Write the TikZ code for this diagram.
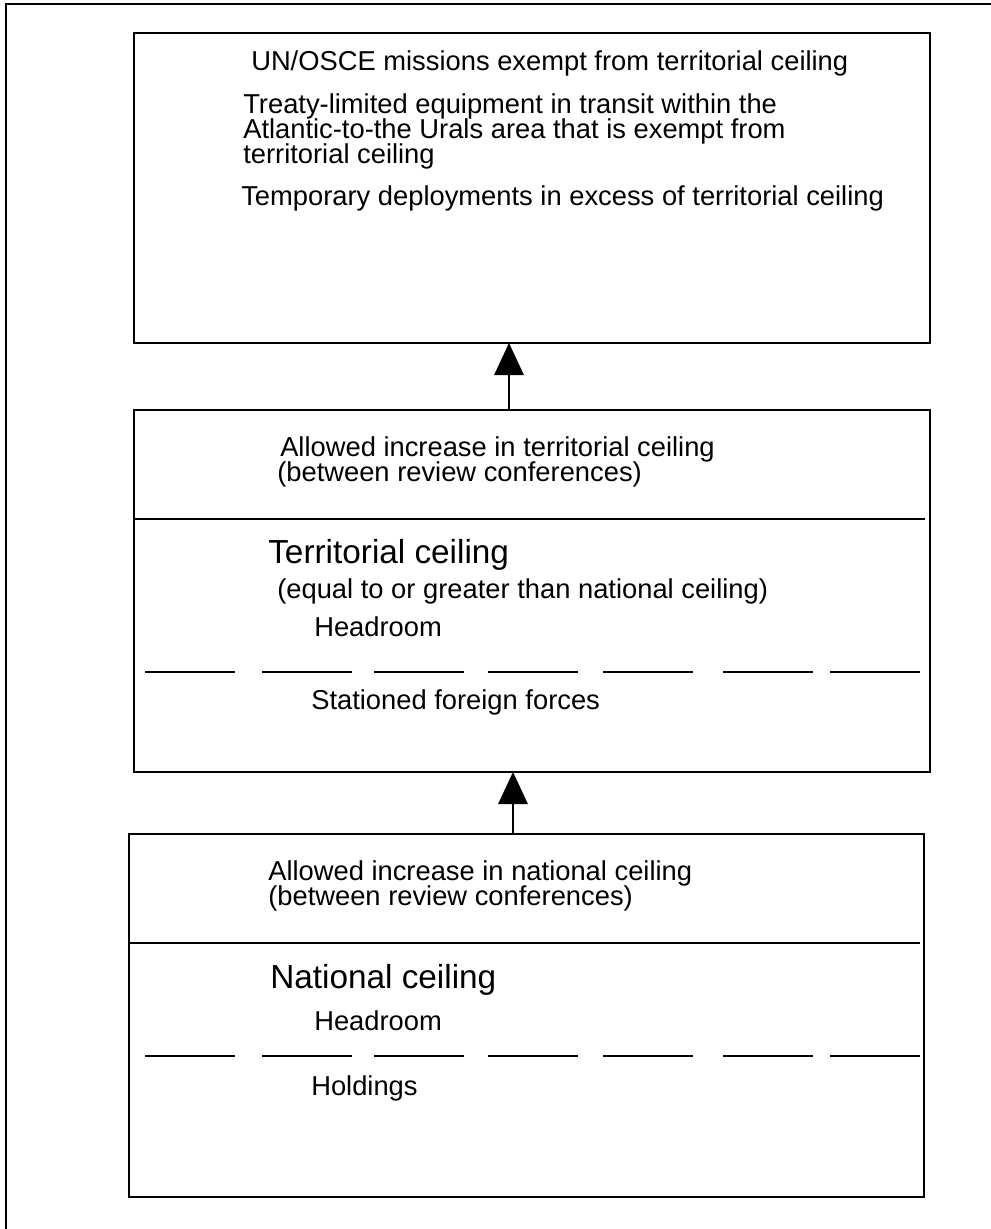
\documentclass[tikz,border=0pt]{standalone}
\usepackage{fontspec}
\setmainfont{Liberation Sans}
\usetikzlibrary{arrows.meta}
\begin{document}
\begin{tikzpicture}[x=0.75pt,y=-0.75pt,
  frameline/.style={line width=2.2pt},
  boxline/.style={line width=2.2pt},
  dashseg/.style={line width=2.2pt},
  txt/.style={anchor=base west, inner sep=0pt, font=\fontsize{20.5}{18.75}\selectfont},
  big/.style={anchor=base west, inner sep=0pt, font=\fontsize{25}{28}\selectfont},
  arr/.style={line width=1.6pt, -{Triangle[width=22pt,length=24pt]}}
]
\useasboundingbox (0,0) rectangle (991,1229);
% outer frame
\draw[frameline] (6,1235) -- (6,4) -- (995,4);
% boxes
\draw[boxline] (134,33) rectangle (930,343);
\draw[boxline] (134,410) rectangle (930,772);
\draw[boxline] (129,834) rectangle (924,1197);
% dividers
\draw[boxline] (134,519) -- (925,519);
\draw[boxline] (129,943) -- (920,943);
% dashed separators
\foreach \a/\b in {145/235,262/352,374/464,488/578,603/693,723/813,830/920}{
  \draw[dashseg] (\a,672) -- (\b,672);
  \draw[dashseg] (\a,1056) -- (\b,1056);
}
% arrows
\coordinate (t1) at (509,343);
\coordinate (s1) at (509,410);
\coordinate (t2) at (513,772);
\coordinate (s2) at (513,834);
\draw[arr] (s1) -- (t1);
\draw[arr] (s2) -- (t2);
% top box text
\node[txt] (u1) at (251,70) {UN/OSCE missions exempt from territorial ceiling};
\node[txt] (tr1) at (243,113) {Treaty-limited equipment in transit within the};
\node[txt] (tr2) at (243,138) {Atlantic-to-the Urals area that is exempt from};
\node[txt] (tr3) at (243,163) {territorial ceiling};
\node[txt] (tp) at (241,205) {Temporary deployments in excess of territorial ceiling};
% middle box text
\node[txt] (m1) at (280,456) {Allowed increase in territorial ceiling};
\node[txt] (m2) at (277,481) {(between review conferences)};
\node[big] (m3) at (268,563) {Territorial ceiling};
\node[txt] (m4) at (277,598) {(equal to or greater than national ceiling)};
\node[txt] (m5) at (314,636) {Headroom};
\node[txt] (m6) at (311,709) {Stationed foreign forces};
% bottom box text
\node[txt] (b1) at (268,880) {Allowed increase in national ceiling};
\node[txt] (b2) at (268,905) {(between review conferences)};
\node[big] (b3) at (270,988) {National ceiling};
\node[txt] (b4) at (314,1030) {Headroom};
\node[txt] (b5) at (311,1095) {Holdings};
\end{tikzpicture}
\end{document}
